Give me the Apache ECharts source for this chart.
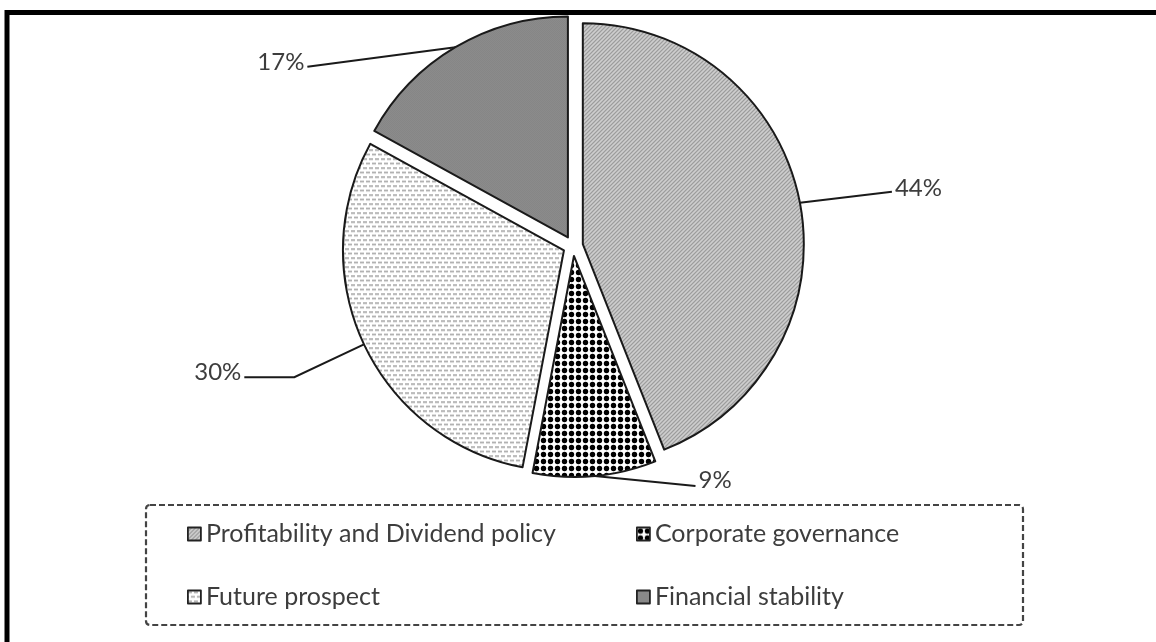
<!DOCTYPE html>
<html>
<head>
<meta charset="utf-8">
<script src="https://cdn.jsdelivr.net/npm/echarts@6/dist/echarts.min.js"></script>
<style>
  html, body { margin: 0; padding: 0; background: #fff; }
  #chart { width: 1156px; height: 642px; }
</style>
</head>
<body>
<div id="chart"></div>
<script>
// Factors considered by investors (share of respondents, %)
const categories = [
  'Profitability and Dividend policy',
  'Corporate governance',
  'Future prospect',
  'Financial stability'
];
const values = [44, 9, 30, 17];

// Leader line lengths for each slice label
const lineLength = [58, 8, 77, 4];
const lineLength2 = [35, 100, 50, 146];

// ---- fill patterns drawn on small canvases ----
function makeCanvas(w, h, draw) {
  const c = document.createElement('canvas');
  c.width = w; c.height = h;
  draw(c.getContext('2d'), w, h);
  return c;
}
// fine diagonal hatching, light grey
const hatch = makeCanvas(4, 4, (g, w, h) => {
  g.fillStyle = '#d4d4d4'; g.fillRect(0, 0, w, h);
  g.strokeStyle = '#8e8e8e'; g.lineWidth = 1.1;
  g.beginPath();
  g.moveTo(-1, h + 1); g.lineTo(w + 1, -1);
  g.moveTo(-1, 1); g.lineTo(1, -1);
  g.moveTo(w - 1, h + 1); g.lineTo(w + 1, h - 1);
  g.stroke();
});
// black dots on a square grid
const dots = makeCanvas(7, 7, (g, w, h) => {
  g.fillStyle = '#ffffff'; g.fillRect(0, 0, w, h);
  g.fillStyle = '#000000';
  g.beginPath(); g.arc(3.5, 3.5, 2.7, 0, Math.PI * 2); g.fill();
});
// staggered horizontal dashes on white
const dashes = makeCanvas(12, 9, (g, w, h) => {
  g.fillStyle = '#ffffff'; g.fillRect(0, 0, w, h);
  g.fillStyle = '#a4a4a4';
  g.fillRect(0, 1, 4, 1.6); g.fillRect(6, 1, 4, 1.6);
  g.fillRect(3, 5.5, 4, 1.6); g.fillRect(9, 5.5, 4, 1.6); g.fillRect(-3, 5.5, 4, 1.6);
});
// dense dark-grey texture
const dense = makeCanvas(2, 2, (g, w, h) => {
  g.fillStyle = '#a0a0a0'; g.fillRect(0, 0, 2, 2);
  g.fillStyle = '#727272'; g.fillRect(0, 0, 1, 1); g.fillRect(1, 1, 1, 1);
});
const fills = [hatch, dots, dashes, dense].map(c => ({ image: c, repeat: 'repeat' }));

const textColor = '#3d3d3d';
const fontFamily = 'Lato, "Open Sans", sans-serif';

const pieData = categories.map((name, i) => ({
  name: name,
  value: values[i],
  selected: true,
  itemStyle: { color: fills[i] },
  labelLine: { length: lineLength[i], length2: lineLength2[i] }
}));

// label placement tweaks: labels sit slightly above the end of their leader line;
// most leader lines run as one straight stroke from the slice to the label
const labelShift = [-4, -4, -5, 19];
const lineDrop = [0, 2, 0, 23];
const straightLine = [true, true, false, true];

const legendCommon = {
  orient: 'vertical',
  icon: 'rect',
  itemWidth: 13,
  itemHeight: 13,
  itemGap: 35,
  itemTextGap: 18,
  selectedMode: false,
  itemStyle: { borderColor: '#222', borderWidth: 1.8 },
  textStyle: { fontFamily: fontFamily, fontSize: 25, color: textColor, lineHeight: 28 }
};

const chart = echarts.init(document.getElementById('chart'), null, { renderer: 'canvas' });
chart.setOption({
  backgroundColor: '#ffffff',
  animation: false,
  legend: [
    Object.assign({}, legendCommon, { left: 182, top: 515, data: [categories[0], categories[2]] }),
    Object.assign({}, legendCommon, { left: 631, top: 515, data: [categories[1], categories[3]] })
  ],
  graphic: [
    {
      type: 'rect',
      shape: { x: 7, y: 12.5, width: 1300, height: 800 },
      style: { fill: 'none', stroke: '#000', lineWidth: 5 },
      silent: true
    },
    {
      type: 'rect',
      shape: { x: 146, y: 505, width: 877, height: 120, r: 4 },
      style: { fill: 'none', stroke: '#444', lineWidth: 2.2, lineDash: [6, 3] },
      silent: true
    }
  ],
  series: [{
    type: 'pie',
    center: [573, 246],
    radius: 221,
    startAngle: 90,
    clockwise: true,
    selectedMode: 'multiple',
    selectedOffset: 10,
    avoidLabelOverlap: false,
    itemStyle: { borderColor: '#1a1a1a', borderWidth: 2 },
    select: { itemStyle: { borderColor: '#1a1a1a', borderWidth: 2 } },
    emphasis: { disabled: true },
    label: {
      show: true,
      formatter: p => p.value + '%',
      fontFamily: fontFamily,
      fontSize: 24,
      color: textColor,
      distanceToLabelLine: 3
    },
    labelLine: { show: true, smooth: false, lineStyle: { color: '#1a1a1a', width: 2 } },
    labelLayout: p => {
      const i = p.dataIndex;
      const pts = p.labelLinePoints;
      if (!pts) return { dy: labelShift[i] };
      const end = [pts[2][0], pts[2][1] + lineDrop[i]];
      const points = straightLine[i] ? [pts[0], end, end] : [pts[0], pts[1], end];
      return { dy: labelShift[i], labelLinePoints: points };
    },
    data: pieData
  }]
});
</script>
</body>
</html>
